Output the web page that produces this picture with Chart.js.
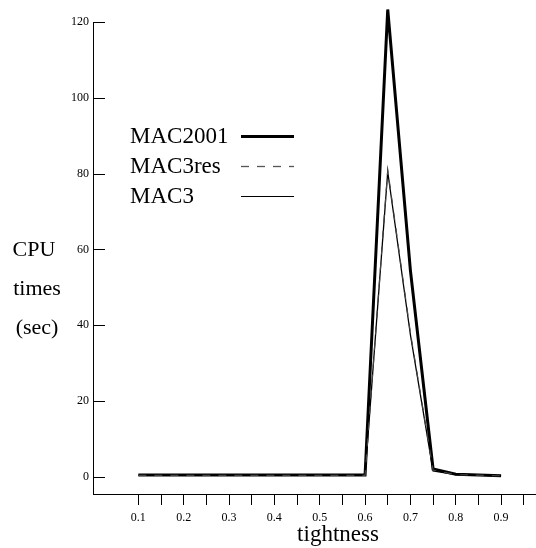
<!DOCTYPE html>
<html>
<head>
<meta charset="utf-8">
<script src="https://cdn.jsdelivr.net/npm/chart.js@4/dist/chart.umd.min.js"></script>
<style>
  html, body { margin: 0; padding: 0; background: #fff; }
  canvas { display: block; }
</style>
</head>
<body>
<canvas id="cpuChart" width="536" height="548"></canvas>
<script>
// data
const tightness = [0.1, 0.2, 0.3, 0.4, 0.5, 0.6, 0.65, 0.7, 0.75, 0.8, 0.9];
const mac2001 = [0.5, 0.5, 0.5, 0.5, 0.5, 0.5, 123.3, 54.5, 2.1, 0.7, 0.3];
const mac3res = [0.4, 0.4, 0.4, 0.4, 0.4, 0.4, 81, 38, 1.8, 0.6, 0.3];
const mac3 = [0.4, 0.4, 0.4, 0.4, 0.4, 0.4, 80.5, 37.5, 1.6, 0.6, 0.3];
const xTicks = [0.1, 0.15, 0.2, 0.25, 0.3, 0.35, 0.4, 0.45, 0.5, 0.55, 0.6, 0.65, 0.7, 0.75, 0.8, 0.85, 0.9, 0.95];
const yTicks = [0, 20, 40, 60, 80, 100, 120];

const SERIF = '"Liberation Serif", "Times New Roman", serif';

function pts(ys) {
  return tightness.map((x, i) => ({ x: x, y: ys[i] }));
}

const legendItems = [
  { text: 'MAC2001', width: 3, color: '#000', dash: [] },
  { text: 'MAC3res', width: 1.3, color: '#555', dash: [8, 8] },
  { text: 'MAC3', width: 1.2, color: '#000', dash: [] }
];

// extra drawing: inward y ticks, legend, axis titles
const extras = {
  id: 'extras',
  afterDraw(chart) {
    const ctx = chart.ctx;
    const y = chart.scales.y;
    const left = chart.chartArea.left;
    ctx.save();
    ctx.strokeStyle = '#000';
    ctx.lineWidth = 1;
    yTicks.forEach(v => {
      const py = Math.round(y.getPixelForValue(v)) + 0.5;
      ctx.beginPath();
      ctx.moveTo(left, py);
      ctx.lineTo(left + 12, py);
      ctx.stroke();
    });

    ctx.fillStyle = '#000';
    ctx.font = '23px ' + SERIF;
    ctx.textBaseline = 'middle';
    ctx.textAlign = 'left';
    const rows = [136, 166, 196];
    legendItems.forEach((it, i) => {
      ctx.fillText(it.text, 130, rows[i] + 1);
      ctx.beginPath();
      ctx.setLineDash(it.dash);
      ctx.lineWidth = it.width;
      ctx.strokeStyle = it.color;
      ctx.moveTo(241, rows[i] + 0.5);
      ctx.lineTo(294, rows[i] + 0.5);
      ctx.stroke();
    });
    ctx.setLineDash([]);

    ctx.textAlign = 'center';
    ctx.font = '22px ' + SERIF;
    ctx.fillText('CPU', 34, 250);
    ctx.fillText('times', 37, 289);
    ctx.fillText('(sec)', 37, 328);

    ctx.font = '23px ' + SERIF;
    ctx.fillText('tightness', 338, 535);
    ctx.restore();
  }
};

new Chart(document.getElementById('cpuChart'), {
  type: 'line',
  data: {
    datasets: [
      { label: 'MAC3res', data: pts(mac3res), borderColor: '#444', borderWidth: 1.2, borderDash: [8, 8], pointRadius: 0, clip: false, tension: 0 },
      { label: 'MAC3', data: pts(mac3), borderColor: '#000', borderWidth: 1.3, pointRadius: 0, clip: false, tension: 0 },
      { label: 'MAC2001', data: pts(mac2001), borderColor: '#000', borderWidth: 3, pointRadius: 0, clip: false, tension: 0 }
    ]
  },
  options: {
    responsive: false,
    animation: false,
    layout: { padding: { top: 22, right: 0, left: 0, bottom: 0 } },
    plugins: { legend: { display: false }, tooltip: { enabled: false } },
    scales: {
      x: {
        type: 'linear',
        min: 0,
        max: 0.977,
        afterBuildTicks(scale) {
          scale.ticks = xTicks.map(v => ({ value: v }));
        },
        afterFit(scale) { scale.height = 54; },
        ticks: {
          autoSkip: false,
          maxRotation: 0,
          padding: 6,
          color: '#000',
          font: { family: SERIF, size: 12 },
          callback(v) {
            const k = Math.round(v * 100);
            return (k % 10 === 0 && k <= 90) ? (k / 100).toFixed(1) : '';
          }
        },
        grid: { drawOnChartArea: false, drawTicks: true, tickLength: 11, color: '#000', lineWidth: 1 },
        border: { display: true, color: '#000', width: 1 }
      },
      y: {
        min: -4.5,
        max: 120,
        afterBuildTicks(scale) {
          scale.ticks = yTicks.map(v => ({ value: v }));
        },
        afterFit(scale) { scale.width = 93; },
        ticks: {
          padding: 4,
          color: '#000',
          font: { family: SERIF, size: 12 }
        },
        grid: { display: false, drawTicks: false },
        border: { display: true, color: '#000', width: 1 }
      }
    }
  },
  plugins: [extras]
});
</script>
</body>
</html>
